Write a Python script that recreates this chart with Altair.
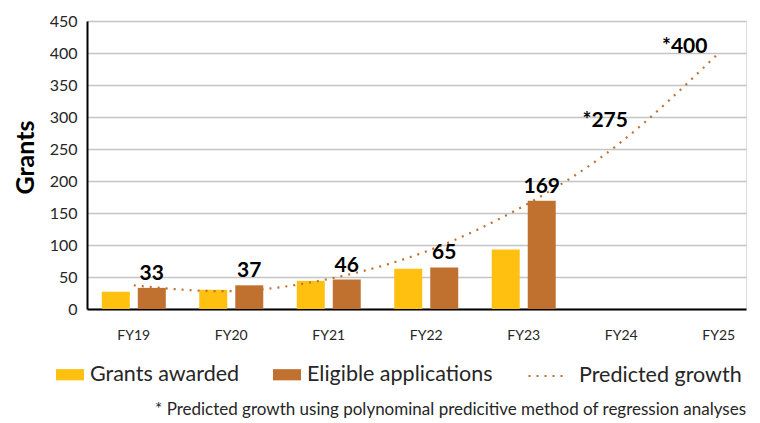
import altair as alt
import pandas as pd

years = ["FY19", "FY20", "FY21", "FY22", "FY23", "FY24", "FY25"]
bar_years = ["FY19", "FY20", "FY21", "FY22", "FY23"]
grants_awarded = [27, 30, 44, 63, 93]
eligible_applications = [33, 37, 46, 65, 169]
predicted_growth = [37, 28, 47, 90, 161, 261, 400]
pred_label_years = ["FY24", "FY25"]
pred_label_values = [275, 400]

YELLOW = "#FFC010"
BROWN = "#C0712F"
FONT = "Lato"

bars = pd.DataFrame({
    "year": bar_years * 2,
    "series": ["Grants awarded"] * 5 + ["Eligible applications"] * 5,
    "value": grants_awarded + eligible_applications,
})
trend = pd.DataFrame({"year": years, "value": predicted_growth, "kind": ["Predicted growth"] * 7})
elig = pd.DataFrame({"year": bar_years, "value": eligible_applications})
pred_labels = pd.DataFrame({"year": pred_label_years, "value": pred_label_values,
                            "label": ["*" + str(v) for v in pred_label_values]})

xscale = alt.Scale(domain=years, paddingInner=0.44, paddingOuter=0.1, align=1)
yscale = alt.Scale(domain=[0, 450])

xenc = alt.X("year:N", scale=xscale, sort=years,
             axis=alt.Axis(title=None, labelAngle=0, ticks=False, labelFont=FONT,
                           labelFontSize=14, labelColor="#262626", labelPadding=19,
                           domainColor="#000000", domainWidth=2))
yenc = alt.Y("value:Q", scale=yscale,
             axis=alt.Axis(title="Grants", values=list(range(0, 451, 50)), ticks=False,
                           labelFont=FONT, labelFontSize=16, labelColor="#262626",
                           labelPadding=10, domainColor="#000000", domainWidth=2,
                           gridColor="#C4C4C4", gridWidth=1.5,
                           titleFont=FONT, titleFontSize=25, titleFontWeight="bold",
                           titleColor="#000000", titleAngle=-90, titleX=-62, titleY=136,
                           titleAlign="center", titleBaseline="middle"))

color = alt.Color("series:N",
                  scale=alt.Scale(domain=["Grants awarded", "Eligible applications"],
                                  range=[YELLOW, BROWN]),
                  legend=alt.Legend(title=None, orient="none", legendX=-31, legendY=339.5,
                                    direction="horizontal", symbolType="M-1,-0.4H1V0.4H-1Z",
                                    symbolSize=784, symbolStrokeWidth=0, labelFont=FONT,
                                    labelFontSize=21.5, labelColor="#262626", labelOffset=6,
                                    labelLimit=0, columnPadding=33, padding=0))

b1 = alt.Chart(bars).transform_filter(alt.datum.series == "Grants awarded").mark_bar(
    width=28, xOffset=-18).encode(x=xenc, y=yenc, color=color)
b2 = alt.Chart(bars).transform_filter(alt.datum.series == "Eligible applications").mark_bar(
    width=28, xOffset=18).encode(x=xenc, y=yenc, color=color)

line = alt.Chart(trend).mark_line(color=BROWN, strokeWidth=2.2, interpolate="natural").encode(
    x=xenc, y=yenc,
    strokeDash=alt.StrokeDash("kind:N", scale=alt.Scale(domain=["Predicted growth"], range=[[2, 6]]),
                              legend=alt.Legend(title=None, orient="none", legendX=440, legendY=333.5,
                                                symbolType="stroke", symbolSize=1600,
                                                symbolStrokeColor=BROWN, symbolStrokeWidth=2.2,
                                                labelFont=FONT, labelFontSize=21.5, labelLimit=0,
                                                labelColor="#262626", labelOffset=9, padding=0)))

lab = alt.Chart(elig).mark_text(font=FONT, fontSize=21, fontWeight="bold", color="#000000",
                                dx=18, dy=-14, baseline="middle").encode(
    x=xenc, y=yenc, text=alt.Text("value:Q"))

pl24 = alt.Chart(pred_labels).transform_filter(alt.datum.year == "FY24").mark_text(
    font=FONT, fontSize=21, fontWeight="bold", color="#000000", dx=-16, dy=-12,
    baseline="middle").encode(x=xenc, y=yenc, text="label:N")
pl25 = alt.Chart(pred_labels).transform_filter(alt.datum.year == "FY25").mark_text(
    font=FONT, fontSize=21, fontWeight="bold", color="#000000", dx=-34, dy=-6,
    baseline="middle").encode(x=xenc, y=yenc, text="label:N")

chart = alt.layer(b1, b2, line, lab, pl24, pl25).properties(
    width=659, height=288,
    autosize=alt.AutoSizeParams(type="none"),
    padding={"left": 79, "top": 13, "right": 6, "bottom": 113},
    title=alt.TitleParams(
        "* Predicted growth using polynominal predicitive method of regression analyses",
        orient="bottom", anchor="end", font=FONT, fontSize=17, fontWeight="normal",
        color="#262626", offset=15),
).configure_view(stroke="#404040", strokeWidth=1.5).configure(background="white")

chart.save("out.html", embed_options={"renderer": "svg", "actions": False})
